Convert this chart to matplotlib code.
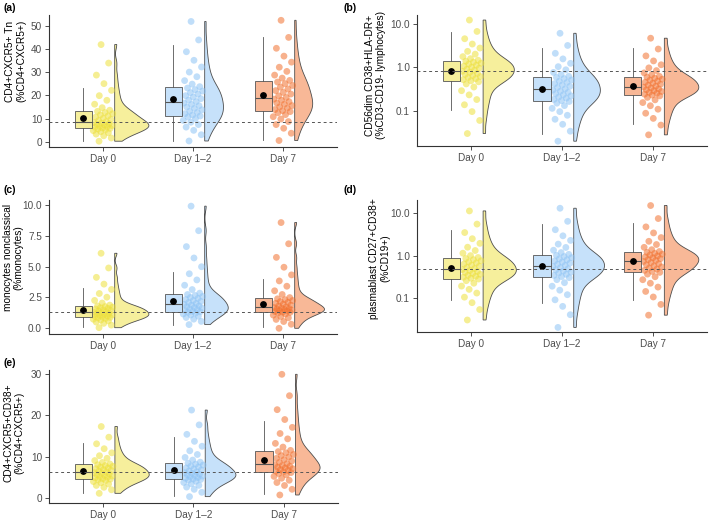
import numpy as np
import matplotlib
matplotlib.use("Agg")
import matplotlib.pyplot as plt

plt.rcParams["font.family"] = ["Liberation Sans", "DejaVu Sans"]

days = ["Day 0", "Day 1–2", "Day 7"]
point_colors = ["#EDE03A", "#8DC3F5", "#F2712F"]
light_colors = ["#F6EF9C", "#C6E1FA", "#F8B897"]

# values read off the clouds (approximate quantiles of each group)
# (a) CD4+CXCR5+ Tn
a_day0 = [0.2, 1.6, 2.55, 3.28, 3.84, 4.34, 4.79, 5.18, 5.52, 5.74,
          5.93, 6.19, 6.45, 6.71, 6.97, 7.23, 7.49, 7.75, 8.01, 8.27,
          8.65, 9.14, 9.63, 10.1, 10.6, 11.1, 11.6, 12.1, 12.6, 13.1,
          13.6, 14.7, 16.2, 17.9, 19.9, 22.2, 25.1, 28.8, 34.0, 42.0]
a_day12 = [0.3, 3.0, 4.9, 6.3, 7.4, 8.4, 9.2, 10.0, 10.7, 11.1,
           11.5, 12.1, 12.65, 13.2, 13.8, 14.4, 15.0, 15.55, 16.1, 16.7,
           17.3, 18.0, 18.6, 19.3, 19.9, 20.6, 21.2, 21.9, 22.5, 23.2,
           23.8, 24.9, 26.4, 28.1, 30.1, 32.3, 35.2, 38.9, 44.0, 52.0]
a_day7 = [0.5, 3.65, 5.8, 7.4, 8.7, 9.8, 10.8, 11.7, 12.5, 13.0,
          13.4, 13.9, 14.5, 15.1, 15.6, 16.2, 16.7, 17.3, 17.9, 18.4,
          19.1, 19.8, 20.6, 21.3, 22.1, 22.8, 23.6, 24.3, 25.1, 25.8,
          26.5, 27.5, 28.8, 30.4, 32.2, 34.4, 37.0, 40.4, 45.1, 52.5]
# box stats: whisker low, q1, median, q3, whisker high, mean
a_box = [[0.2, 5.8, 8.4, 13.3, 23.3, 10.4],
         [0.5, 11.2, 17.0, 23.5, 41.8, 18.3],
         [0.7, 13.1, 18.7, 26.2, 45.1, 20.0]]

# (b) CD56dim CD38+HLA-DR+
b_day0 = [0.030, 0.060, 0.096, 0.138, 0.182, 0.233, 0.291, 0.353, 0.417, 0.466,
          0.492, 0.521, 0.551, 0.582, 0.617, 0.652, 0.690, 0.730, 0.771, 0.817,
          0.863, 0.910, 0.959, 1.01, 1.07, 1.12, 1.19, 1.25, 1.32, 1.39,
          1.46, 1.59, 1.77, 2.02, 2.34, 2.79, 3.45, 4.57, 6.73, 12.3]
b_day12 = [0.020, 0.034, 0.049, 0.064, 0.079, 0.096, 0.114, 0.132, 0.150, 0.164,
           0.172, 0.183, 0.195, 0.207, 0.221, 0.235, 0.250, 0.266, 0.283, 0.301,
           0.321, 0.344, 0.367, 0.394, 0.421, 0.450, 0.481, 0.515, 0.551, 0.589,
           0.624, 0.684, 0.767, 0.881, 1.04, 1.24, 1.57, 2.11, 3.20, 6.10]
b_day7 = [0.028, 0.047, 0.067, 0.088, 0.109, 0.131, 0.155, 0.179, 0.204, 0.221,
          0.231, 0.242, 0.254, 0.266, 0.279, 0.292, 0.305, 0.320, 0.336, 0.352,
          0.369, 0.389, 0.410, 0.433, 0.456, 0.481, 0.507, 0.535, 0.564, 0.594,
          0.622, 0.675, 0.748, 0.845, 0.975, 1.15, 1.41, 1.84, 2.65, 4.70]
b_box = [[0.104, 0.48, 0.84, 1.43, 6.65, 0.83],
         [0.03, 0.167, 0.31, 0.61, 2.74, 0.32],
         [0.051, 0.226, 0.36, 0.61, 2.74, 0.37]]

# (c) monocytes nonclassical
c_day0 = [0.05, 0.26, 0.40, 0.51, 0.60, 0.67, 0.74, 0.80, 0.85, 0.88,
          0.91, 0.95, 1.00, 1.04, 1.08, 1.13, 1.17, 1.21, 1.26, 1.30,
          1.35, 1.40, 1.45, 1.50, 1.55, 1.61, 1.66, 1.71, 1.76, 1.81,
          1.88, 2.05, 2.26, 2.52, 2.82, 3.15, 3.58, 4.13, 4.89, 6.08]
c_day12 = [0.30, 0.56, 0.74, 0.88, 0.98, 1.08, 1.16, 1.23, 1.30, 1.34,
           1.38, 1.44, 1.51, 1.57, 1.63, 1.69, 1.75, 1.82, 1.88, 1.94,
           2.01, 2.09, 2.17, 2.25, 2.33, 2.42, 2.50, 2.58, 2.66, 2.74,
           2.85, 3.14, 3.49, 3.92, 4.42, 4.99, 5.70, 6.62, 7.91, 9.90]
c_day7 = [0.0, 0.33, 0.55, 0.72, 0.85, 0.96, 1.07, 1.16, 1.24, 1.29,
          1.32, 1.36, 1.40, 1.44, 1.48, 1.52, 1.56, 1.60, 1.64, 1.68,
          1.74, 1.81, 1.88, 1.96, 2.03, 2.10, 2.17, 2.25, 2.32, 2.39,
          2.49, 2.74, 3.04, 3.41, 3.84, 4.33, 4.95, 5.75, 6.85, 8.57]
c_box = [[0.1, 0.89, 1.32, 1.84, 3.24, 1.49],
         [0.3, 1.35, 1.97, 2.78, 4.6, 2.24],
         [0.08, 1.3, 1.7, 2.43, 4.0, 1.97]]

# (d) plasmablast CD27+CD38+
d_day0 = [0.030, 0.053, 0.077, 0.104, 0.130, 0.159, 0.190, 0.222, 0.255, 0.279,
          0.292, 0.308, 0.324, 0.342, 0.361, 0.379, 0.400, 0.422, 0.444, 0.468,
          0.494, 0.525, 0.558, 0.593, 0.630, 0.670, 0.711, 0.755, 0.803, 0.853,
          0.902, 0.999, 1.14, 1.32, 1.58, 1.95, 2.51, 3.51, 5.56, 11.4]
d_day12 = [0.020, 0.040, 0.063, 0.090, 0.119, 0.152, 0.189, 0.229, 0.270, 0.301,
           0.319, 0.340, 0.361, 0.384, 0.407, 0.434, 0.460, 0.490, 0.520, 0.553,
           0.587, 0.624, 0.662, 0.703, 0.746, 0.794, 0.843, 0.895, 0.951, 1.01,
           1.07, 1.18, 1.34, 1.56, 1.87, 2.29, 2.94, 4.10, 6.47, 13.2]
d_day7 = [0.039, 0.070, 0.105, 0.142, 0.180, 0.222, 0.269, 0.316, 0.365, 0.401,
          0.423, 0.449, 0.478, 0.507, 0.538, 0.571, 0.607, 0.644, 0.685, 0.728,
          0.769, 0.807, 0.847, 0.889, 0.933, 0.980, 1.03, 1.08, 1.13, 1.19,
          1.25, 1.38, 1.57, 1.83, 2.18, 2.67, 3.44, 4.78, 7.53, 15.3]
d_box = [[0.089, 0.285, 0.48, 0.88, 4.06, 0.50],
         [0.074, 0.31, 0.57, 1.04, 5.5, 0.58],
         [0.089, 0.41, 0.75, 1.22, 5.85, 0.73]]

# (e) CD4+CXCR5+CD38+
e_day0 = [1.05, 1.92, 2.52, 2.97, 3.32, 3.63, 3.91, 4.16, 4.37, 4.51,
          4.62, 4.78, 4.95, 5.11, 5.27, 5.43, 5.59, 5.76, 5.92, 6.08,
          6.26, 6.45, 6.65, 6.84, 7.03, 7.23, 7.42, 7.62, 7.81, 8.00,
          8.19, 8.56, 9.02, 9.57, 10.2, 10.9, 11.9, 13.1, 14.7, 17.3]
e_day12 = [0.25, 1.30, 2.02, 2.57, 2.99, 3.37, 3.70, 4.00, 4.25, 4.42,
           4.55, 4.72, 4.89, 5.06, 5.23, 5.40, 5.57, 5.74, 5.91, 6.08,
           6.28, 6.51, 6.75, 6.98, 7.21, 7.45, 7.68, 7.92, 8.15, 8.38,
           8.63, 9.14, 9.78, 10.5, 11.4, 12.5, 13.7, 15.4, 17.7, 21.3]
e_day7 = [0.65, 2.03, 2.96, 3.68, 4.23, 4.73, 5.17, 5.55, 5.88, 6.10,
          6.26, 6.45, 6.65, 6.84, 7.03, 7.23, 7.42, 7.62, 7.81, 8.00,
          8.26, 8.59, 8.91, 9.24, 9.56, 9.89, 10.2, 10.5, 10.9, 11.2,
          11.5, 12.3, 13.2, 14.3, 15.6, 17.1, 19.0, 21.4, 24.8, 30.0]
e_box = [[1.05, 4.54, 6.16, 8.1, 13.4, 6.57],
         [0.5, 4.46, 6.16, 8.5, 14.7, 6.8],
         [0.8, 6.16, 8.1, 11.35, 18.7, 9.16]]


def _kde(vals, grid, bw):
    z = (grid[:, None] - vals[None, :]) / bw
    return np.exp(-0.5 * z ** 2).sum(1) / (len(vals) * bw * np.sqrt(2 * np.pi))


def draw_panel(ax, groups, box, ylabel, log, ylim, yticks, yticklabels,
               label_xy, max_w=0.38, bw_scale=0.95):
    # densities (on log10 scale for log panels)
    dens = []
    for vals in groups:
        v = np.log10(vals) if log else np.asarray(vals, float)
        iqr = np.subtract(*np.percentile(v, [75, 25]))
        bw = 0.9 * min(v.std(ddof=1), iqr / 1.34) * len(v) ** -0.2 * bw_scale
        grid = np.linspace(v.min(), v.max(), 200)
        dens.append((grid, _kde(v, grid, bw)))
    scale = max_w / max(d.max() for _, d in dens)

    for i, vals in enumerate(groups):
        pos = i + 1
        grid, d = dens[i]
        yy = 10 ** grid if log else grid
        base = pos + 0.13
        ax.fill(np.r_[base, base + d * scale, base], np.r_[yy[0], yy, yy[-1]],
                facecolor=light_colors[i], edgecolor="#4D4D4D", lw=0.6, zorder=2)

        n = len(vals)
        jit = ((np.arange(n) * 0.618034 + 0.3) % 1 - 0.5) * 0.22
        ax.scatter(pos + jit, vals, s=24, color=point_colors[i], alpha=0.55,
                   edgecolors="none", zorder=3)

        lo, q1, med, q3, hi, mean = box[i]
        ax.bxp([{"whislo": lo, "q1": q1, "med": med, "q3": q3, "whishi": hi,
                 "fliers": []}], positions=[pos - 0.22], widths=0.19,
               patch_artist=True, showcaps=False, showfliers=False,
               boxprops=dict(facecolor=light_colors[i], edgecolor="#555555", lw=0.6),
               whiskerprops=dict(color="#555555", lw=0.6),
               medianprops=dict(color="#555555", lw=0.8), manage_ticks=False,
               zorder=4)
        ax.scatter([pos - 0.22], [mean], s=15, color="black", zorder=5)

    # reference line at the Day 0 median
    ax.axhline(box[0][2], color="#555555", lw=0.7, ls=(0, (3, 3)), zorder=6)

    if log:
        ax.set_yscale("log")
    ax.set_ylim(*ylim)
    ax.set_yticks(yticks)
    ax.set_yticklabels(yticklabels)
    ax.minorticks_off()
    ax.set_xlim(0.4, 3.6)
    ax.set_xticks([1, 2, 3])
    ax.set_xticklabels(days)
    ax.set_ylabel(ylabel, fontsize=7.3, linespacing=1.1, va="center")
    ax.yaxis.set_label_coords(*label_xy)
    for s in ("top", "right"):
        ax.spines[s].set_visible(False)
    for s in ("left", "bottom"):
        ax.spines[s].set_color("#333333")
        ax.spines[s].set_linewidth(0.8)
    ax.tick_params(labelsize=7.2, colors="#333333", labelcolor="#4D4D4D",
                   length=3, width=0.6, pad=2)


fig = plt.figure(figsize=(7.09, 5.22), dpi=100)

ax_a = fig.add_axes([0.0691, 0.7184, 0.4062, 0.2529])
draw_panel(ax_a, [a_day0, a_day12, a_day7], a_box,
           "CD4+CXCR5+ Tn\n(%CD4+CXCR5+)", False, (-2.3, 54.8),
           [0, 10, 20, 30, 40, 50], ["0", "10", "20", "30", "40", "50"],
           (-0.115, 0.65))

ax_b = fig.add_axes([0.5881, 0.7203, 0.4090, 0.2510])
draw_panel(ax_b, [b_day0, b_day12, b_day7], b_box,
           "CD56dim CD38+HLA-DR+\n(%CD3-CD19- lymphocytes)", True, (0.0155, 16.1),
           [0.1, 1, 10], ["0.1", "1.0", "10.0"], (-0.143, 0.54))

ax_c = fig.add_axes([0.0691, 0.3602, 0.4062, 0.2567])
draw_panel(ax_c, [c_day0, c_day12, c_day7], c_box,
           "monocytes nonclassical\n(%monocytes)", False, (-0.46, 10.4),
           [0, 2.5, 5, 7.5, 10], ["0.0", "2.5", "5.0", "7.5", "10.0"],
           (-0.125, 0.57))

ax_d = fig.add_axes([0.5881, 0.3640, 0.4090, 0.2529])
draw_panel(ax_d, [d_day0, d_day12, d_day7], d_box,
           "plasmablast CD27+CD38+\n(%CD19+)", True, (0.0156, 20.7),
           [0.1, 1, 10], ["0.1", "1.0", "10.0"], (-0.128, 0.56))

ax_e = fig.add_axes([0.0691, 0.0364, 0.4076, 0.2548])
draw_panel(ax_e, [e_day0, e_day12, e_day7], e_box,
           "CD4+CXCR5+CD38+\n(%CD4+CXCR5+)", False, (-1.3, 31.05),
           [0, 10, 20, 30], ["0", "10", "20", "30"], (-0.121, 0.53))

for lab, x, y in [("(a)", 3, 8), ("(b)", 343, 8), ("(c)", 3, 190),
                  ("(d)", 343, 190), ("(e)", 3, 363)]:
    fig.text(x / 709, 1 - y / 522, lab, fontsize=7.5, fontweight="bold",
             ha="left", va="center")

fig.savefig("out.png", dpi=100)
